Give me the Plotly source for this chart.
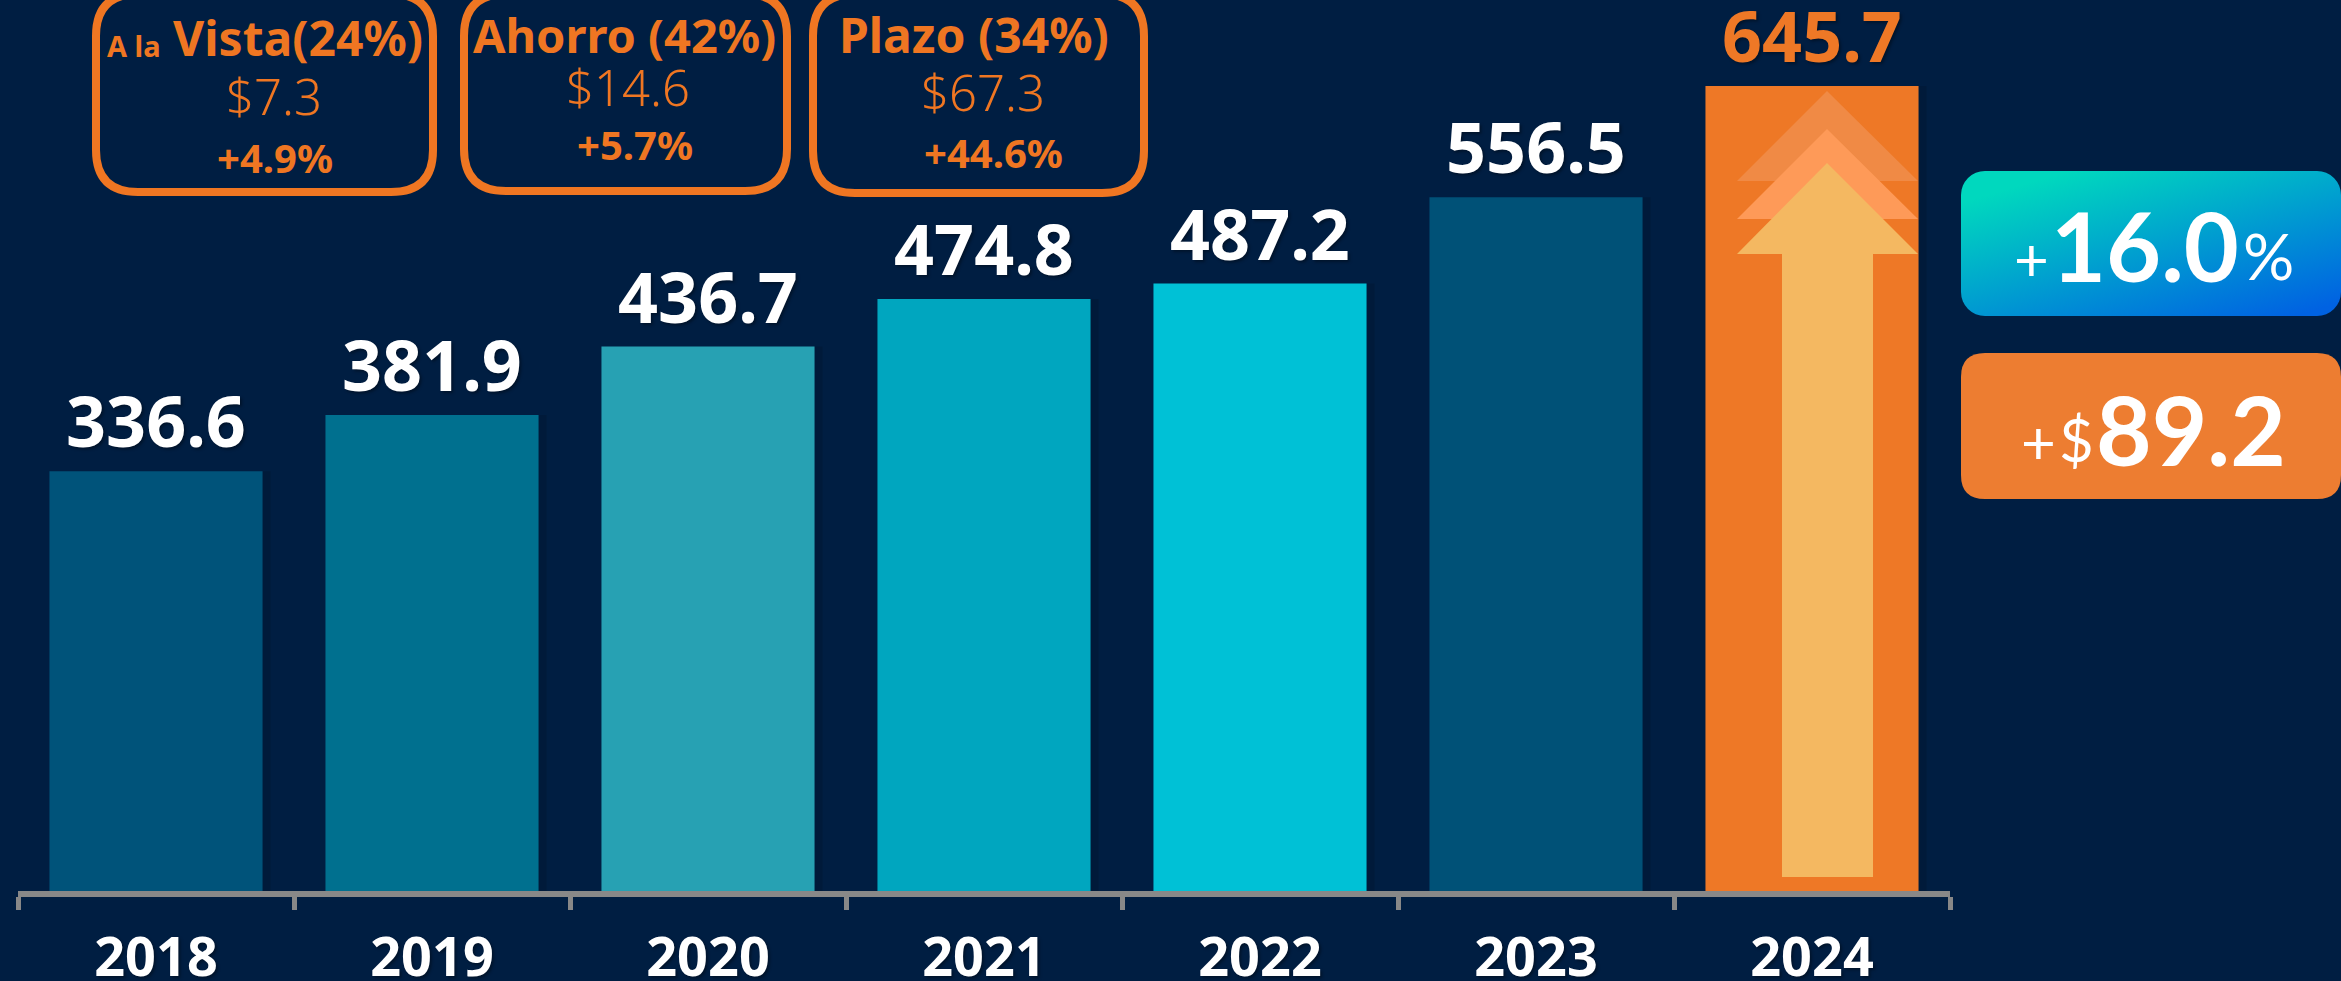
import plotly.graph_objects as go
from urllib.parse import quote

years = ["2018", "2019", "2020", "2021", "2022", "2023", "2024"]
values = [336.6, 381.9, 436.7, 474.8, 487.2, 556.5, 645.7]
bar_colors = ["#00537a", "#00708f", "#27a1b3", "#00a6bf", "#00c1d6", "#005177", "#ee7826"]
label_colors = ["#ffffff"] * 6 + ["#ee7826"]

BG = "#001e42"
ORANGE = "#ef7622"
W, H = 2341, 981
X0, X1, BASE = 18, 1950, 891
PX_PER_UNIT = 805 / 645.7


def px(x):
    return x / W


def py(y):
    return 1 - y / H


def rrect(x0, y0, x1, y1, r):
    pts = [
        f"M{px(x0 + r)},{py(y0)}", f"L{px(x1 - r)},{py(y0)}",
        f"Q{px(x1)},{py(y0)} {px(x1)},{py(y0 + r)}", f"L{px(x1)},{py(y1 - r)}",
        f"Q{px(x1)},{py(y1)} {px(x1 - r)},{py(y1)}", f"L{px(x0 + r)},{py(y1)}",
        f"Q{px(x0)},{py(y1)} {px(x0)},{py(y1 - r)}", f"L{px(x0)},{py(y0 + r)}",
        f"Q{px(x0)},{py(y0)} {px(x0 + r)},{py(y0)}", "Z",
    ]
    return " ".join(pts)


def poly(points):
    return "M" + " L".join(f"{px(a)},{py(b)}" for a, b in points) + " Z"


fig = go.Figure(go.Bar(
    x=years, y=values, marker=dict(color=bar_colors, line=dict(width=0)),
    text=[f"{v:.1f}" for v in values], textposition="outside", cliponaxis=False,
    constraintext="none",
    textfont=dict(family="Noto Sans", size=70, weight=700, color=label_colors,
                  shadow="2px 2px 3px rgba(0,0,0,0.35)"),
))

shapes = []
# soft shadows to the right of the bars
for i, v in enumerate(values):
    shapes.append(dict(type="rect", xref="x", yref="y", x0=i + 0.386, x1=i + 0.415, y0=0, y1=v,
                       fillcolor="rgba(0,0,0,0.12)", line_width=0, layer="below"))

# rounded outlines
for box in [(96, -6, 433, 192), (464, -6, 787, 191), (813, -6, 1144, 193)]:
    shapes.append(dict(type="path", xref="paper", yref="paper", path=rrect(*box, 42),
                       fillcolor="rgba(0,0,0,0)", line=dict(color=ORANGE, width=8)))

# arrow on the last bar
for pts, col in [
    ([(1827, 91), (1918, 181), (1737, 181)], "#f08a45"),
    ([(1827, 129), (1918, 219), (1737, 219)], "#fe9a58"),
    ([(1827, 163), (1918, 254), (1873, 254), (1873, 877), (1782, 877), (1782, 254), (1737, 254)], "#f4b861"),
]:
    shapes.append(dict(type="path", xref="paper", yref="paper", path=poly(pts), fillcolor=col, line_width=0))

# orange pill
shapes.append(dict(type="path", xref="paper", yref="paper", path=rrect(1961, 353, 2341, 499, 24),
                   fillcolor="#ed7d31", line_width=0))

# gradient pill, as an inline SVG picture
svg = ("<svg xmlns='http://www.w3.org/2000/svg' width='380' height='145' viewBox='0 0 380 145'>"
       "<defs><linearGradient id='g' x1='0.12' y1='0' x2='0.88' y2='1'>"
       "<stop offset='0.08' stop-color='#00d8be'/><stop offset='1' stop-color='#0062e2'/></linearGradient></defs>"
       "<rect width='380' height='145' rx='24' ry='24' fill='url(#g)'/></svg>")
images = [dict(source="data:image/svg+xml;charset=utf-8," + quote(svg), xref="paper", yref="paper",
               x=px(1961), y=py(171), sizex=px(2341) - px(1961), sizey=py(171) - py(316),
               xanchor="left", yanchor="top", sizing="stretch", layer="above")]


def label(text, x, y, size, color=ORANGE, weight=700, family="Noto Sans", anchor="center"):
    return dict(text=text, xref="paper", yref="paper", x=px(x), y=py(y), xanchor=anchor, yanchor="middle",
                showarrow=False, borderpad=0, font=dict(family=family, size=size, color=color, weight=weight))


annotations = [
    label("A la", 134, 46, 29),
    label("Vista(24%)", 298, 38, 48),
    label("Ahorro (42%)", 624, 35, 47),
    label("Plazo (34%)", 974, 35, 48),
    label("$7.3", 274, 96, 49, weight=300),
    label("$14.6", 628, 87, 49, weight=300),
    label("$67.3", 983, 92, 49, weight=300),
    label("+4.9%", 275, 157, 40),
    label("+5.7%", 635, 144, 40),
    label("+44.6%", 993, 153, 40),
    label("+", 2031, 258, 60, "#ffffff", 400, "Lato"),
    label("16.0", 2145, 245, 95, "#ffffff", 700, "Lato"),
    label("%", 2268, 256, 64, "#ffffff", 400, "Lato"),
    label("+", 2039, 441, 60, "#ffffff", 400, "Lato"),
    label("$", 2076, 439, 60, "#ffffff", 400, "Lato"),
    label("89.2", 2191, 428, 96, "#ffffff", 700, "Lato"),
]

fig.update_layout(
    width=W, height=H, paper_bgcolor=BG, plot_bgcolor=BG, showlegend=False,
    margin=dict(l=0, r=0, t=0, b=0), bargap=0.228,
    shapes=shapes, annotations=annotations, images=images,
    xaxis=dict(domain=[X0 / W, X1 / W], type="category", tickson="boundaries", automargin=False,
               showline=True, linecolor="#888888", linewidth=6, ticks="outside", ticklen=13,
               tickwidth=5, tickcolor="#888888", showgrid=False, zeroline=False,
               tickfont=dict(family="Noto Sans", size=54, color="#ffffff", weight=700,
                             shadow="2px 2px 3px rgba(0,0,0,0.35)"),
               ticklabelstandoff=14),
    yaxis=dict(domain=[1 - BASE / H, 1], range=[0, BASE / PX_PER_UNIT], visible=False, automargin=False),
)

fig.write_html("out.html", config=dict(displayModeBar=False),
               post_script="document.body.style.margin='0';document.body.style.background='#001e42';")
